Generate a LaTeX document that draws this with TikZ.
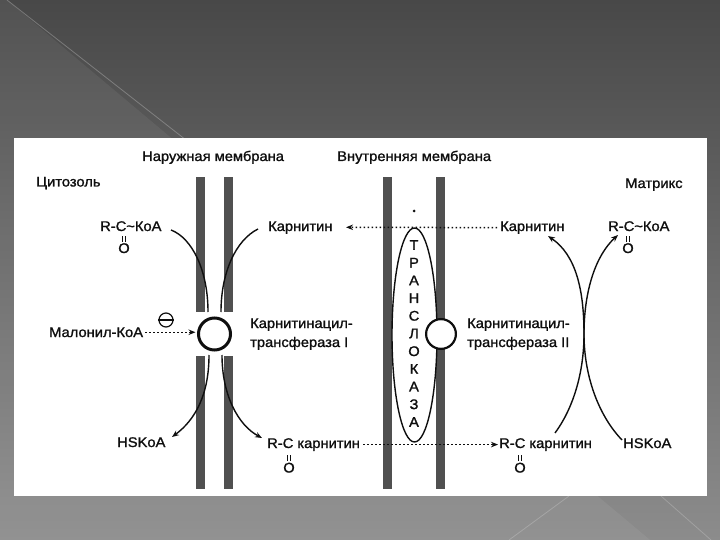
\documentclass[tikz,border=0pt]{standalone}
\usepackage{fontspec}
\setmainfont{Liberation Sans}[FakeStretch=1.05,FakeBold=1.3]
\usetikzlibrary{arrows.meta,shapes.geometric}
\definecolor{barc}{RGB}{80,80,80}
\definecolor{bgtop}{RGB}{72,72,72}
\definecolor{bgbot}{RGB}{140,140,140}
\definecolor{ink}{RGB}{15,15,15}
\begin{document}
\begin{tikzpicture}[x=1pt,y=-1pt,
  lbl/.style={font=\fontsize{14}{16}\selectfont, inner sep=0pt, anchor=base west, text=ink},
  olbl/.style={font=\fontsize{14}{16}\selectfont, inner sep=0pt, anchor=base, text=ink},
  letter/.style={font=\fontsize{14}{16}\selectfont, inner sep=0pt, text=ink},
  membar/.style={fill=barc, draw=none},
  rxn/.style={draw=ink, line width=1.4pt},
  tip/.style={-{Stealth[length=7pt,width=5.5pt]}},
  dots/.style={draw=ink, line width=1.5pt, dash pattern=on 1.5pt off 2.5pt},
  bond/.style={draw=ink, line width=0.8pt, double distance=1.8pt},
  enzyme/.style={circle, draw=ink, fill=white, inner sep=0pt}
]
\useasboundingbox (0,0) rectangle (720,540);
% background
\shade[top color=bgtop, bottom color=bgbot] (0,0) rectangle (720,540);
\fill[white, opacity=0.06] (0,0) -- (7,0) -- (650,540) -- (0,540) -- cycle;
\draw[white, opacity=0.25, line width=0.8pt] (7,0) -- (186,140);
\draw[white, opacity=0.2, line width=0.8pt] (509,540) -- (569,496);
\draw[white, opacity=0.2, line width=0.8pt] (661,496) -- (711,540);
\fill[white] (14,138) rectangle (707,496);

% membranes
\fill[membar] (196,177) rectangle (205,312);
\fill[membar] (224,177) rectangle (233,312);
\fill[membar] (196,356) rectangle (205,489);
\fill[membar] (224,356) rectangle (233,489);
\fill[membar] (383,177) rectangle (392,489);
\fill[membar] (436,177) rectangle (445,489);

% titles
\node[lbl] (outer) at (142,161) {Наружная мембрана};
\node[lbl] (inner) at (337,161) {Внутренняя мембрана};
\node[lbl] (cyto) at (36,186.5) {Цитозоль};
\node[lbl] (matrix) at (625,188) {Матрикс};

% top row
\node[lbl] (rcoaL) at (100,231) {R-C\textasciitilde КоА};
\node[olbl] (oL) at (124,253) {O};
\node[lbl] (karnL) at (268,231) {Карнитин};
\node[lbl] (karnR) at (500,231) {Карнитин};
\node[lbl] (rcoaR) at (608,231) {R-C\textasciitilde КоА};
\node[olbl] (oR) at (628,253) {O};
\draw[bond] ([yshift=1.5pt]oL.north) -- ++(0,-6);
\draw[bond] ([yshift=1.5pt]oR.north) -- ++(0,-6);

% middle
\node[lbl] (mal) at (49,337) {Малонил-КоА};
\node[circle, draw=ink, line width=1.2pt, minimum size=14pt, inner sep=0pt] (inh) at (166,320) {};
\draw[draw=ink, line width=1.2pt] (inh.west) -- (inh.east);
\node[lbl] (cat1a) at (250,328) {Карнитинацил-};
\node[lbl] (cat1b) at (250,347) {трансфераза I};
\node[lbl] (cat2a) at (467,328) {Карнитинацил-};
\node[lbl] (cat2b) at (467,347) {трансфераза II};

% bottom row
\node[lbl] (hskL) at (117,447) {HSKoA};
\node[lbl] (rckL) at (267,448) {R-C карнитин};
\node[olbl] (oBL) at (289,472.5) {O};
\node[lbl] (rckR) at (499,448) {R-C карнитин};
\node[olbl] (oBR) at (520,472.5) {O};
\node[lbl] (hskR) at (623,448) {HSKoA};
\draw[bond] ([yshift=1.5pt]oBL.north) -- ++(0,-6);
\draw[bond] ([yshift=1.5pt]oBR.north) -- ++(0,-6);

% translocase
\node[circle, fill=ink, inner sep=0pt, minimum size=3pt] (star) at (414,211) {};
\node[ellipse, draw=ink, line width=1.4pt, minimum width=45pt, minimum height=214pt, inner sep=0pt] (transl) at (414.5,335) {};
\foreach \l [count=\i from 0] in {Т,Р,А,Н,С,Л,О,К,А,З,А}
  \node[letter] (tr\i) at (414, 245+17.7*\i) {\l};

% dotted transport
\draw[dots, tip] ([xshift=-3pt]karnR.west) -- (346,227.3);
\draw[dots, tip] ([xshift=3pt]rckL.east) -- ([xshift=-1pt]rckR.west);

% enzymes
\node[enzyme, line width=3pt, minimum size=32pt] (cat1) at (214.5,334) {};
\node[enzyme, line width=2.2pt, minimum size=29.8pt] (cat2) at (441,334) {};
\draw[dots, tip, shorten >=1.5pt] ([xshift=2pt]mal.east) -- (cat1.west |- mal.east);

% outer membrane reactions
\coordinate (ulS) at (171,230);
\coordinate (ulE) at (208,312);
\coordinate (urS) at (258,229);
\coordinate (urE) at (221,312);
\coordinate (llS) at (209,355);
\coordinate (llE) at (172,437);
\coordinate (lrS) at (222,355);
\coordinate (lrE) at (262,438);
\draw[rxn] (ulS) .. controls (192,238) and (208,270) .. (ulE);
\draw[rxn] (urS) .. controls (236,240) and (221,272) .. (urE);
\draw[rxn, tip] (llS) .. controls (209,395) and (195,420) .. (llE);
\draw[rxn, tip] (lrS) .. controls (222,395) and (238,425) .. (lrE);

% matrix reactions
\coordinate (mX) at (584,334);
\coordinate (m1S) at (555,433);
\coordinate (m1E) at (548,236);
\coordinate (m2S) at (622,440);
\coordinate (m2E) at (618,235);
\draw[rxn, tip] (m1S) .. controls (572,410) and (584,375) .. (mX) .. controls (584,290) and (576,255) .. (m1E);
\draw[rxn, tip] (m2S) .. controls (598,415) and (584,375) .. (mX) .. controls (584,290) and (596,255) .. (m2E);
\end{tikzpicture}
\end{document}
